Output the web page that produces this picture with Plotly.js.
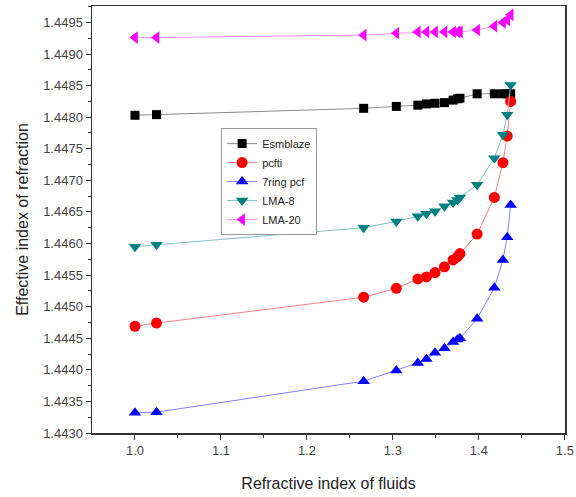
<!DOCTYPE html>
<html>
<head>
<meta charset="utf-8">
<script src="https://cdn.plot.ly/plotly-3.0.1.min.js"></script>
<style>html,body{margin:0;padding:0;background:#fff;}#chart{width:576px;height:497px;}</style>
</head>
<body>
<div id="chart"></div>
<script>
const fluidIndex = [1.0, 1.025, 1.266, 1.304, 1.329, 1.339, 1.349, 1.360, 1.370, 1.375, 1.378, 1.398, 1.418, 1.428, 1.433, 1.437];

const esmblaze = [1.44803, 1.44804, 1.44814, 1.44817, 1.44819, 1.44821, 1.44822, 1.44823, 1.44827, 1.44829, 1.44830, 1.44837, 1.44837, 1.44837, 1.44837, 1.44837];
const pcfti    = [1.44469, 1.44474, 1.44515, 1.44529, 1.44544, 1.44547, 1.44554, 1.44563, 1.44574, 1.44579, 1.44584, 1.44615, 1.44673, 1.44728, 1.44770, 1.44825];
const ring7    = [1.44332, 1.44333, 1.44382, 1.44399, 1.44411, 1.44417, 1.44427, 1.44434, 1.44444, 1.44448, 1.44450, 1.44481, 1.44530, 1.44574, 1.44610, 1.44661];
const lma8     = [1.44595, 1.44598, 1.44625, 1.44635, 1.44643, 1.44647, 1.44651, 1.44659, 1.44665, 1.44669, 1.44673, 1.44693, 1.44735, 1.44772, 1.44804, 1.44851];
const lma20    = [1.44926, 1.44926, 1.44930, 1.44933, 1.44935, 1.44935, 1.44935, 1.44935, 1.44935, 1.44935, 1.44935, 1.44938, 1.44944, 1.44950, 1.44954, 1.44962];

const seriesNames = ["Esmblaze", "pcfti", "7ring pcf", "LMA-8", "LMA-20"];
const xTickVals = [1.0, 1.1, 1.2, 1.3, 1.4, 1.5];
const xTickText = ["1.0", "1.1", "1.2", "1.3", "1.4", "1.5"];

function tr(name, y, color, lineColor, symbol, size) {
  return {
    x: fluidIndex, y: y, name: name, type: 'scatter', mode: 'lines+markers',
    line: {color: lineColor, width: 1},
    marker: {color: color, symbol: symbol, size: size, line: {width: 0}}
  };
}

const data = [
  tr(seriesNames[0], esmblaze, '#000000', '#8a8a8a', 'square', 9),
  tr(seriesNames[1], pcfti, '#ff0000', '#f08080', 'circle', 11),
  tr(seriesNames[2], ring7, '#0000ff', '#8080ff', 'triangle-up', 11),
  tr(seriesNames[3], lma8, '#008080', '#80c0c0', 'triangle-down', 11),
  tr(seriesNames[4], lma20, '#ff00ff', '#ff90ff', 'triangle-left', 11)
];

const axisFont = {family: 'Liberation Sans, Arial, sans-serif', size: 13, color: '#444'};

const layout = {
  width: 576, height: 497,
  margin: {l: 92, r: 11, t: 6, b: 64},
  paper_bgcolor: '#fff', plot_bgcolor: '#fff',
  showlegend: true,
  legend: {
    x: 0.273, y: 0.714, xanchor: 'left', yanchor: 'top',
    bgcolor: '#fff', bordercolor: '#999', borderwidth: 1,
    font: {family: 'Liberation Sans, Arial, sans-serif', size: 11, color: '#222'},
    tracegroupgap: 0, itemwidth: 30
  },
  xaxis: {
    range: [0.95, 1.5002], tickmode: 'array', tickvals: xTickVals, ticktext: xTickText,
    ticklabeloverflow: 'allow',
    ticks: 'outside', ticklen: 5, tickwidth: 1, tickcolor: '#333',
    minor: {tickmode: 'array', tickvals: [1.05, 1.15, 1.25, 1.35, 1.45], ticks: 'outside', ticklen: 3, tickcolor: '#333', showgrid: false},
    showline: true, linecolor: '#333', linewidth: 1.5, mirror: true,
    showgrid: false, zeroline: false, automargin: false,
    tickfont: axisFont,
    title: {text: 'Refractive index of fluids', font: {family: 'Liberation Sans, Arial, sans-serif', size: 16, color: '#222'}, standoff: 20}
  },
  yaxis: {
    range: [1.4430, 1.44976], dtick: 0.0005, tick0: 1.4430, tickformat: '.4f',
    ticks: 'outside', ticklen: 5, tickwidth: 1, tickcolor: '#333',
    minor: {dtick: 0.00025, tick0: 1.4430, ticks: 'outside', ticklen: 3, tickcolor: '#333', showgrid: false},
    showline: true, linecolor: '#333', linewidth: 1.5, mirror: true,
    showgrid: false, zeroline: false, automargin: false,
    tickfont: axisFont,
    title: {text: 'Effective index of refraction', font: {family: 'Liberation Sans, Arial, sans-serif', size: 16, color: '#222'}, standoff: 10}
  }
};

Plotly.newPlot('chart', data, layout, {displayModeBar: false, staticPlot: true});
</script>
</body>
</html>
